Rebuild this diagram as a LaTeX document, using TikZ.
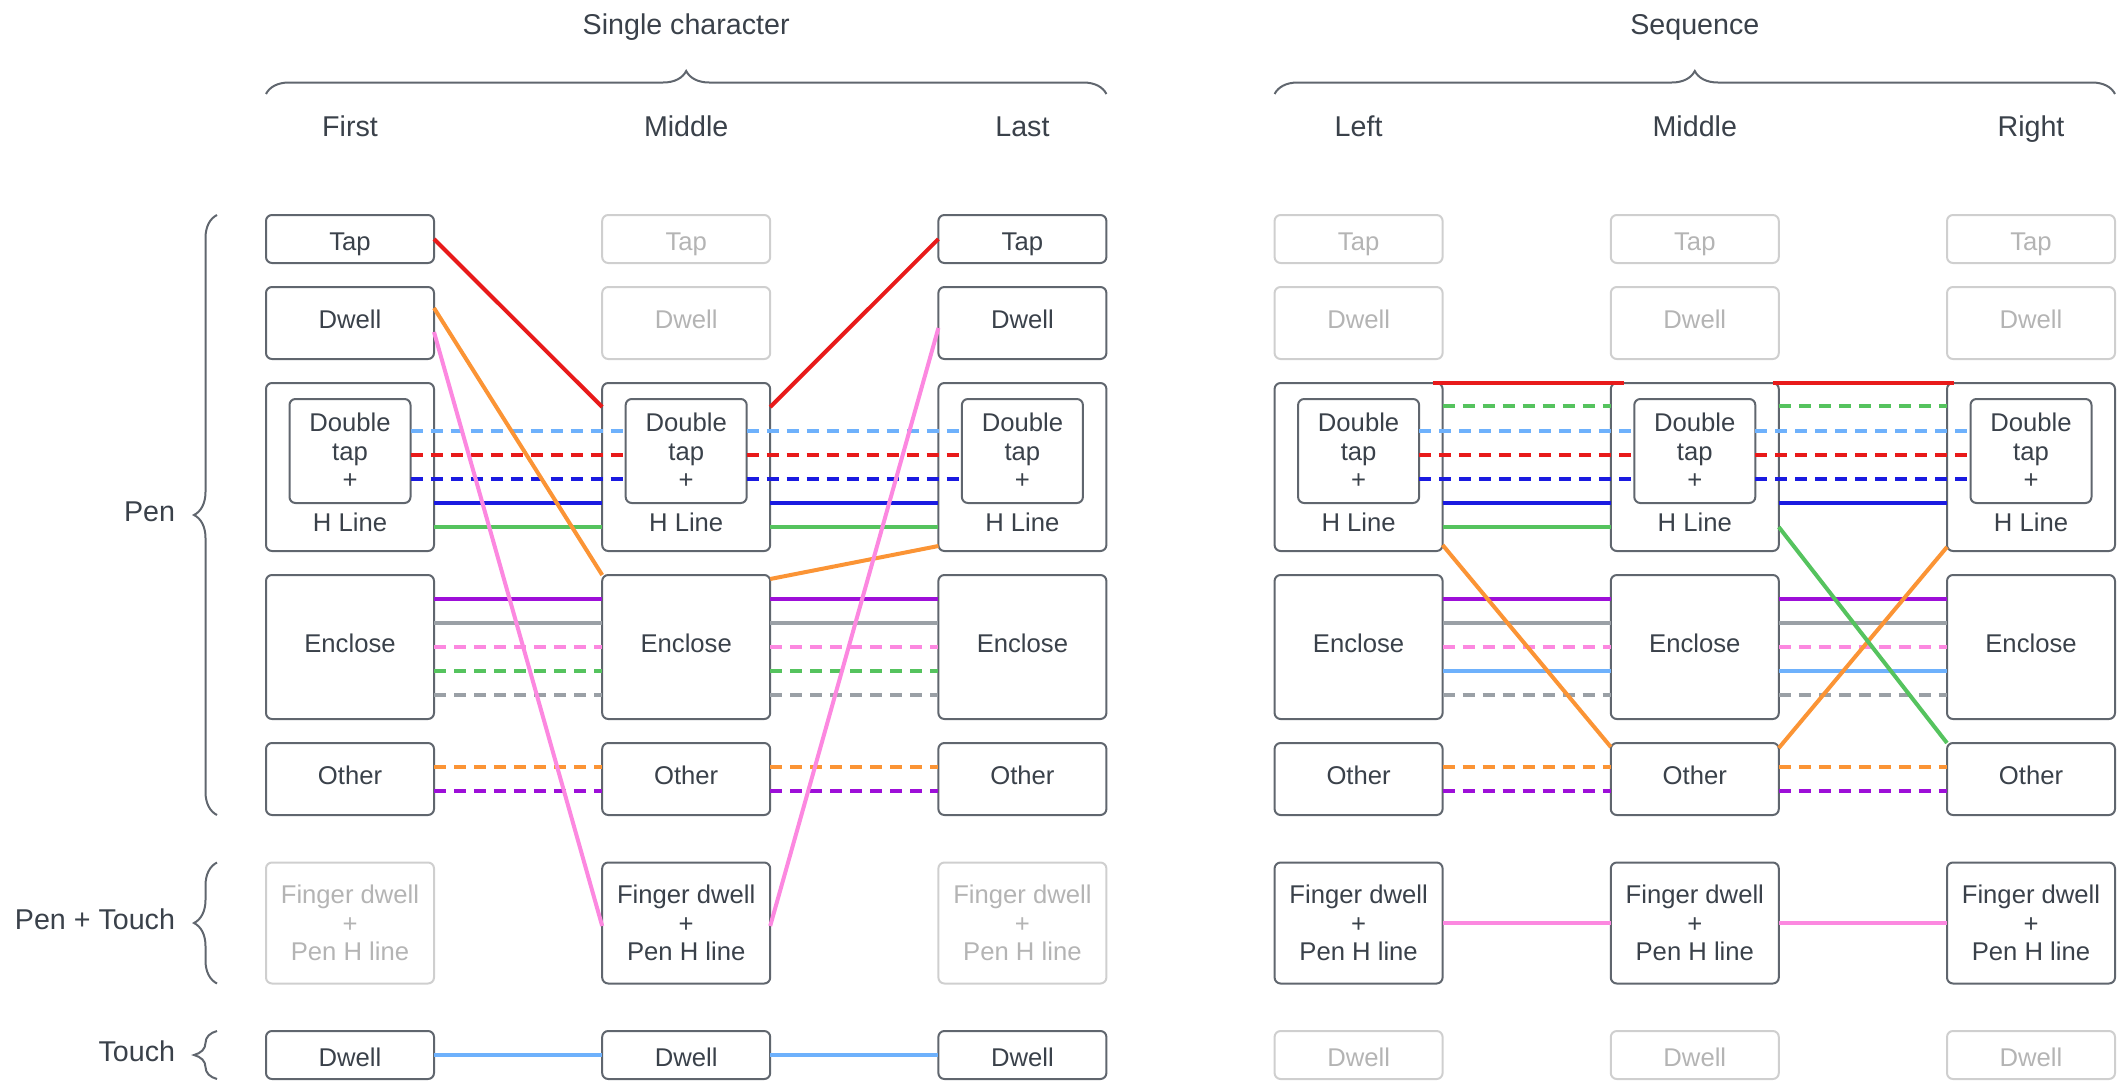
\documentclass[tikz,border=0pt]{standalone}
\usepackage{fontspec}
\setmainfont{Liberation Sans}
\definecolor{TextDark}{HTML}{3A414A}
\definecolor{BoxGray}{HTML}{60666E}
\definecolor{FadeGray}{HTML}{CFCFCF}
\definecolor{FadeText}{HTML}{B4B4B4}
\definecolor{LineRed}{HTML}{E81A1A}
\definecolor{LineBlue}{HTML}{1A1AE0}
\definecolor{LineSky}{HTML}{6EB1FC}
\definecolor{LineGreen}{HTML}{55C35E}
\definecolor{LineOrange}{HTML}{FB9435}
\definecolor{LinePink}{HTML}{FC88E0}
\definecolor{LinePurple}{HTML}{9D0FD8}
\definecolor{LineGray}{HTML}{9AA0A6}
\usetikzlibrary{positioning, decorations.pathreplacing}

\begin{document}
\begin{tikzpicture}[
        node distance=0.48cm and 3.364cm,
        box/.style={draw=BoxGray, line width=0.04cm, rounded corners=0.12cm, minimum width=3.36cm, inner sep=0pt, outer sep=0pt, align=center, text=TextDark, font=\fontsize{14.6}{16.3}\selectfont},
        faded/.style={draw=FadeGray, text=FadeText},
        row_tap/.style={minimum height=0.96cm, text height=0.44cm, text depth=0pt},
        row_dwell/.style={minimum height=1.44cm, text height=0.37cm, text depth=0.17cm},
        row_dt/.style={minimum height=3.36cm},
        row_enclose/.style={minimum height=2.88cm, text height=0.37cm, text depth=0.17cm},
        row_other/.style={minimum height=1.44cm, text height=0.37cm, text depth=0.17cm},
        row_finger/.style={minimum height=2.42cm},
        inner_box/.style={box, minimum width=2.42cm, minimum height=2.08cm},
        box_text/.style={inner sep=0pt, text=TextDark, font=\fontsize{14.6}{16.3}\selectfont},
        head_label/.style={inner sep=0pt, text=TextDark, font=\fontsize{16.3}{19}\selectfont},
        group_brace/.style={decorate, decoration={brace, amplitude=0.46cm}, draw=BoxGray, line width=0.04cm},
        link/.style={line width=0.08cm},
        dashed_link/.style={link, dash pattern=on 0.24cm off 0.16cm}
    ]
        \useasboundingbox (0,0) rectangle (42.42,-21.62);

        % Column 1
        \node[box, row_tap] (t1) at (7.00,-4.78) {Tap};
        \node[box, row_dwell, below=of t1] (d1) {Dwell};
        \node[box, row_dt, below=of d1] (h1) {};
        \node[box, row_enclose, below=of h1] (e1) {Enclose};
        \node[box, row_other, below=of e1] (o1) {Other};
        \node[box, row_finger, faded, below=0.95cm of o1] (f1) {Finger dwell\\+\\Pen H line};
        \node[box, row_tap, below=0.95cm of f1] (w1) {Dwell};

        % Tap row
        \node[box, row_tap, faded, right=of t1] (t2) {Tap};
        \node[box, row_tap, right=of t2] (t3) {Tap};
        \node[box, row_tap, faded, right=of t3] (t4) {Tap};
        \node[box, row_tap, faded, right=of t4] (t5) {Tap};
        \node[box, row_tap, faded, right=of t5] (t6) {Tap};

        % Dwell row
        \node[box, row_dwell, faded, right=of d1] (d2) {Dwell};
        \node[box, row_dwell, right=of d2] (d3) {Dwell};
        \node[box, row_dwell, faded, right=of d3] (d4) {Dwell};
        \node[box, row_dwell, faded, right=of d4] (d5) {Dwell};
        \node[box, row_dwell, faded, right=of d5] (d6) {Dwell};

        % Double tap + H line row
        \node[box, row_dt, right=of h1] (h2) {};
        \node[box, row_dt, right=of h2] (h3) {};
        \node[box, row_dt, right=of h3] (h4) {};
        \node[box, row_dt, right=of h4] (h5) {};
        \node[box, row_dt, right=of h5] (h6) {};
        \node[inner_box, below=0.32cm of h1.north] (dt1) {Double\\tap\\+};
        \node[inner_box, below=0.32cm of h2.north] (dt2) {Double\\tap\\+};
        \node[inner_box, below=0.32cm of h3.north] (dt3) {Double\\tap\\+};
        \node[inner_box, below=0.32cm of h4.north] (dt4) {Double\\tap\\+};
        \node[inner_box, below=0.32cm of h5.north] (dt5) {Double\\tap\\+};
        \node[inner_box, below=0.32cm of h6.north] (dt6) {Double\\tap\\+};
        \node[box_text, above=0.38cm of h1.south] (hl1) {H Line};
        \node[box_text, above=0.38cm of h2.south] (hl2) {H Line};
        \node[box_text, above=0.38cm of h3.south] (hl3) {H Line};
        \node[box_text, above=0.38cm of h4.south] (hl4) {H Line};
        \node[box_text, above=0.38cm of h5.south] (hl5) {H Line};
        \node[box_text, above=0.38cm of h6.south] (hl6) {H Line};

        % Enclose row
        \node[box, row_enclose, right=of e1] (e2) {Enclose};
        \node[box, row_enclose, right=of e2] (e3) {Enclose};
        \node[box, row_enclose, right=of e3] (e4) {Enclose};
        \node[box, row_enclose, right=of e4] (e5) {Enclose};
        \node[box, row_enclose, right=of e5] (e6) {Enclose};

        % Other row
        \node[box, row_other, right=of o1] (o2) {Other};
        \node[box, row_other, right=of o2] (o3) {Other};
        \node[box, row_other, right=of o3] (o4) {Other};
        \node[box, row_other, right=of o4] (o5) {Other};
        \node[box, row_other, right=of o5] (o6) {Other};

        % Finger dwell row
        \node[box, row_finger, right=of f1] (f2) {Finger dwell\\+\\Pen H line};
        \node[box, row_finger, faded, right=of f2] (f3) {Finger dwell\\+\\Pen H line};
        \node[box, row_finger, right=of f3] (f4) {Finger dwell\\+\\Pen H line};
        \node[box, row_finger, right=of f4] (f5) {Finger dwell\\+\\Pen H line};
        \node[box, row_finger, right=of f5] (f6) {Finger dwell\\+\\Pen H line};

        % Touch row
        \node[box, row_tap, right=of w1] (w2) {Dwell};
        \node[box, row_tap, right=of w2] (w3) {Dwell};
        \node[box, row_tap, faded, right=of w3] (w4) {Dwell};
        \node[box, row_tap, faded, right=of w4] (w5) {Dwell};
        \node[box, row_tap, faded, right=of w5] (w6) {Dwell};

        % Headers
        \node[head_label, anchor=base] (single) at ([yshift=3.60cm]t2.north) {Single character};
        \node[head_label, anchor=base] (sequence) at ([yshift=3.60cm]t5.north) {Sequence};
        \node[head_label, anchor=base] (first) at ([yshift=1.58cm]t1.north) {First};
        \node[head_label, anchor=base] (middle) at ([yshift=1.58cm]t2.north) {Middle};
        \node[head_label, anchor=base] (last) at ([yshift=1.58cm]t3.north) {Last};
        \node[head_label, anchor=base] (left) at ([yshift=1.58cm]t4.north) {Left};
        \node[head_label, anchor=base] (mid) at ([yshift=1.58cm]t5.north) {Middle};
        \node[head_label, anchor=base] (right) at ([yshift=1.58cm]t6.north) {Right};
        \draw[group_brace] ([yshift=2.42cm]t1.north west) -- ([yshift=2.42cm]t3.north east);
        \draw[group_brace] ([yshift=2.42cm]t4.north west) -- ([yshift=2.42cm]t6.north east);
        \draw[group_brace] ([xshift=-0.98cm]o1.south west) -- node[head_label, left=0.82cm, yshift=0.07cm] (pen) {Pen} ([xshift=-0.98cm]t1.north west);
        \draw[group_brace] ([xshift=-0.98cm]f1.south west) -- node[head_label, left=0.82cm, yshift=0.07cm] (pentouch) {Pen + Touch} ([xshift=-0.98cm]f1.north west);
        \draw[group_brace] ([xshift=-0.98cm]w1.south west) -- node[head_label, left=0.82cm, yshift=0.07cm] (touch) {Touch} ([xshift=-0.98cm]w1.north west);

        % Edges, single character
        \draw[dashed_link, LineSky] ([yshift=0.40cm]dt1.east) -- ([yshift=0.40cm]dt2.west);
        \draw[dashed_link, LineRed] ([yshift=-0.08cm]dt1.east) -- ([yshift=-0.08cm]dt2.west);
        \draw[dashed_link, LineBlue] ([yshift=-0.56cm]dt1.east) -- ([yshift=-0.56cm]dt2.west);
        \draw[link, LineBlue] ([yshift=-2.40cm]h1.north east) -- ([yshift=-2.40cm]h2.north west);
        \draw[link, LineGreen] ([yshift=-2.88cm]h1.north east) -- ([yshift=-2.88cm]h2.north west);
        \draw[dashed_link, LineSky] ([yshift=0.40cm]dt2.east) -- ([yshift=0.40cm]dt3.west);
        \draw[dashed_link, LineRed] ([yshift=-0.08cm]dt2.east) -- ([yshift=-0.08cm]dt3.west);
        \draw[dashed_link, LineBlue] ([yshift=-0.56cm]dt2.east) -- ([yshift=-0.56cm]dt3.west);
        \draw[link, LineBlue] ([yshift=-2.40cm]h2.north east) -- ([yshift=-2.40cm]h3.north west);
        \draw[link, LineGreen] ([yshift=-2.88cm]h2.north east) -- ([yshift=-2.88cm]h3.north west);

        \draw[link, LinePurple] ([yshift=-0.48cm]e1.north east) -- ([yshift=-0.48cm]e2.north west);
        \draw[link, LineGray] ([yshift=-0.96cm]e1.north east) -- ([yshift=-0.96cm]e2.north west);
        \draw[dashed_link, LinePink] ([yshift=-1.44cm]e1.north east) -- ([yshift=-1.44cm]e2.north west);
        \draw[dashed_link, LineGreen] ([yshift=-1.92cm]e1.north east) -- ([yshift=-1.92cm]e2.north west);
        \draw[dashed_link, LineGray] ([yshift=-2.40cm]e1.north east) -- ([yshift=-2.40cm]e2.north west);
        \draw[link, LinePurple] ([yshift=-0.48cm]e2.north east) -- ([yshift=-0.48cm]e3.north west);
        \draw[link, LineGray] ([yshift=-0.96cm]e2.north east) -- ([yshift=-0.96cm]e3.north west);
        \draw[dashed_link, LinePink] ([yshift=-1.44cm]e2.north east) -- ([yshift=-1.44cm]e3.north west);
        \draw[dashed_link, LineGreen] ([yshift=-1.92cm]e2.north east) -- ([yshift=-1.92cm]e3.north west);
        \draw[dashed_link, LineGray] ([yshift=-2.40cm]e2.north east) -- ([yshift=-2.40cm]e3.north west);

        \draw[dashed_link, LineOrange] ([yshift=-0.48cm]o1.north east) -- ([yshift=-0.48cm]o2.north west);
        \draw[dashed_link, LinePurple] ([yshift=-0.96cm]o1.north east) -- ([yshift=-0.96cm]o2.north west);
        \draw[dashed_link, LineOrange] ([yshift=-0.48cm]o2.north east) -- ([yshift=-0.48cm]o3.north west);
        \draw[dashed_link, LinePurple] ([yshift=-0.96cm]o2.north east) -- ([yshift=-0.96cm]o3.north west);

        \draw[link, LineSky] (w1) -- (w2);
        \draw[link, LineSky] (w2) -- (w3);

        \draw[link, LineRed] (t1.east) -- ([yshift=-0.48cm]h2.north west);
        \draw[link, LineRed] ([yshift=-0.48cm]h2.north east) -- (t3.west);
        \draw[link, LineOrange] ([yshift=-0.42cm]d1.north east) -- (e2.north west);
        \draw[link, LineOrange] ([yshift=-0.08cm]e2.north east) -- ([yshift=0.10cm]h3.south west);
        \draw[link, LinePink] ([yshift=-0.90cm]d1.north east) -- ([yshift=-0.06cm]f2.west);
        \draw[link, LinePink] ([yshift=-0.06cm]f2.east) -- ([yshift=-0.10cm]d3.west);

        % Edges, sequence
        \draw[link, LineRed] ([xshift=-0.20cm]h4.north east) -- ([xshift=0.26cm]h5.north west);
        \draw[dashed_link, LineGreen] ([yshift=-0.46cm]h4.north east) -- ([yshift=-0.46cm]h5.north west);
        \draw[dashed_link, LineSky] ([yshift=0.40cm]dt4.east) -- ([yshift=0.40cm]dt5.west);
        \draw[dashed_link, LineRed] ([yshift=-0.08cm]dt4.east) -- ([yshift=-0.08cm]dt5.west);
        \draw[dashed_link, LineBlue] ([yshift=-0.56cm]dt4.east) -- ([yshift=-0.56cm]dt5.west);
        \draw[link, LineBlue] ([yshift=-2.40cm]h4.north east) -- ([yshift=-2.40cm]h5.north west);
        \draw[link, LineGreen] ([yshift=-2.88cm]h4.north east) -- ([yshift=-2.88cm]h5.north west);
        \draw[link, LineRed] ([xshift=-0.12cm]h5.north east) -- ([xshift=0.14cm]h6.north west);
        \draw[dashed_link, LineGreen] ([yshift=-0.46cm]h5.north east) -- ([yshift=-0.46cm]h6.north west);
        \draw[dashed_link, LineSky] ([yshift=0.40cm]dt5.east) -- ([yshift=0.40cm]dt6.west);
        \draw[dashed_link, LineRed] ([yshift=-0.08cm]dt5.east) -- ([yshift=-0.08cm]dt6.west);
        \draw[dashed_link, LineBlue] ([yshift=-0.56cm]dt5.east) -- ([yshift=-0.56cm]dt6.west);
        \draw[link, LineBlue] ([yshift=-2.40cm]h5.north east) -- ([yshift=-2.40cm]h6.north west);

        \draw[link, LinePurple] ([yshift=-0.48cm]e4.north east) -- ([yshift=-0.48cm]e5.north west);
        \draw[link, LineGray] ([yshift=-0.96cm]e4.north east) -- ([yshift=-0.96cm]e5.north west);
        \draw[dashed_link, LinePink] ([yshift=-1.44cm]e4.north east) -- ([yshift=-1.44cm]e5.north west);
        \draw[link, LineSky] ([yshift=-1.92cm]e4.north east) -- ([yshift=-1.92cm]e5.north west);
        \draw[dashed_link, LineGray] ([yshift=-2.40cm]e4.north east) -- ([yshift=-2.40cm]e5.north west);
        \draw[link, LinePurple] ([yshift=-0.48cm]e5.north east) -- ([yshift=-0.48cm]e6.north west);
        \draw[link, LineGray] ([yshift=-0.96cm]e5.north east) -- ([yshift=-0.96cm]e6.north west);
        \draw[dashed_link, LinePink] ([yshift=-1.44cm]e5.north east) -- ([yshift=-1.44cm]e6.north west);
        \draw[link, LineSky] ([yshift=-1.92cm]e5.north east) -- ([yshift=-1.92cm]e6.north west);
        \draw[dashed_link, LineGray] ([yshift=-2.40cm]e5.north east) -- ([yshift=-2.40cm]e6.north west);

        \draw[dashed_link, LineOrange] ([yshift=-0.48cm]o4.north east) -- ([yshift=-0.48cm]o5.north west);
        \draw[dashed_link, LinePurple] ([yshift=-0.96cm]o4.north east) -- ([yshift=-0.96cm]o5.north west);
        \draw[dashed_link, LineOrange] ([yshift=-0.48cm]o5.north east) -- ([yshift=-0.48cm]o6.north west);
        \draw[dashed_link, LinePurple] ([yshift=-0.96cm]o5.north east) -- ([yshift=-0.96cm]o6.north west);

        \draw[link, LinePink] (f4) -- (f5);
        \draw[link, LinePink] (f5) -- (f6);

        \draw[link, LineOrange] ([yshift=0.12cm]h4.south east) -- ([yshift=-0.08cm]o5.north west);
        \draw[link, LineOrange] ([yshift=-0.10cm]o5.north east) -- ([yshift=0.08cm]h6.south west);
        \draw[link, LineGreen] ([yshift=-2.88cm]h5.north east) -- (o6.north west);
    \end{tikzpicture}
\end{document}
